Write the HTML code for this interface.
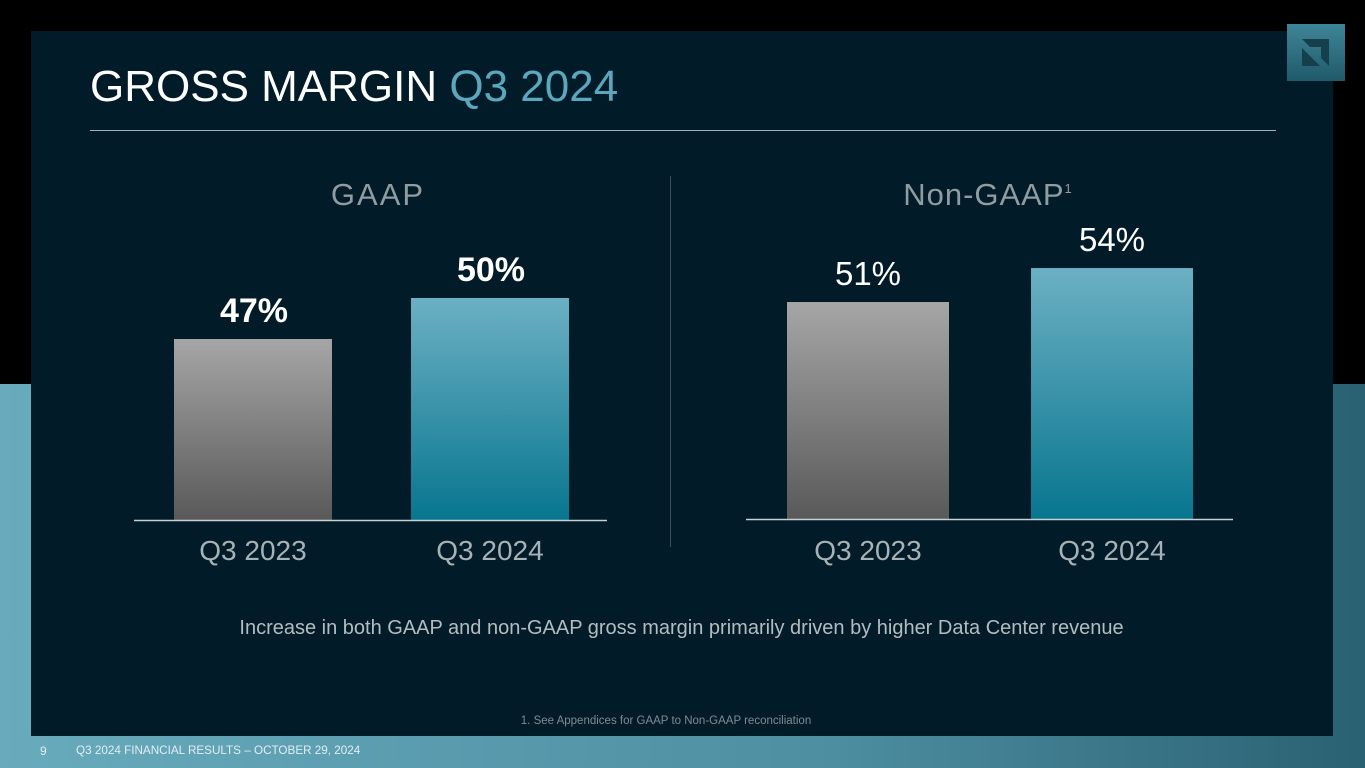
<!DOCTYPE html>
<html><head><meta charset="utf-8"><style>
body{margin:0;width:1365px;height:768px;overflow:hidden;font-family:"Liberation Sans",sans-serif;position:relative;background:#000}
.bg{position:absolute;left:0;top:384px;width:1365px;height:384px;background:linear-gradient(90deg,#68abbd,#4e8fa2 60%,#2a6172)}
.panel{position:absolute;left:31px;top:31px;width:1302px;height:705px;background:#011c28}
.abs{position:absolute}
</style></head><body>
<div class="bg"></div>
<div class="panel"></div>
<div class="abs" style="left:1287px;top:24px;width:58px;height:57px;background:linear-gradient(180deg,#3f8597,#1f5a6a)">
<svg width="58" height="57"><polygon points="15,15 42,15 42,42 34,34 34,23 23,23" fill="#163f4c"/><polygon points="15,24 24,33 33,42 15,42" fill="#163f4c"/></svg></div>
<div class="abs" style="left:90px;top:62px;font-size:44px;color:#fff">GROSS MARGIN <span style="color:#5ba7bd">Q3 2024</span></div>
<div class="abs" style="left:90px;top:130px;width:1186px;height:1px;background:#9fb3ba"></div>
<div class="abs" style="left:670px;top:176px;width:1px;height:371px;background:#3a4f58"></div>
<svg class="abs" style="left:0;top:0" width="1365" height="768" id="chart">
<defs>
<linearGradient id="g" x1="0" y1="0" x2="0" y2="1"><stop offset="0" stop-color="#a6a6a6"/><stop offset="1" stop-color="#595959"/></linearGradient>
<linearGradient id="b" x1="0" y1="0" x2="0" y2="1"><stop offset="0" stop-color="#6cb0c3"/><stop offset="1" stop-color="#07768f"/></linearGradient>
</defs>
</svg>
<div class="abs" style="left:0;width:1365px;text-align:center;top:617px;font-size:20px;color:#b5bcc0;text-indent:-2px">Increase in both GAAP and non-GAAP gross margin primarily driven by higher Data Center revenue</div>
<div class="abs" style="left:0;width:1332px;text-align:center;top:715px;font-size:11.5px;color:#7d8b92">1. See Appendices for GAAP to Non-GAAP reconciliation</div>
<div class="abs" style="left:40px;top:744px;font-size:12px;color:#e0eef2">9</div>
<div class="abs" style="left:76px;top:744px;font-size:11.7px;color:#e0eef2">Q3 2024 FINANCIAL RESULTS – OCTOBER 29, 2024</div>
<script>
const categories=["Q3 2023","Q3 2024"];
const gaapValues=[47,50];
const nonGaapValues=[51,54];
const gaapLabels=["47%","50%"];
const nonGaapLabels=["51%","54%"];
const svg=document.getElementById('chart');
const NS='http://www.w3.org/2000/svg';
function mk(t,a){const e=document.createElementNS(NS,t);for(const k in a)e.setAttribute(k,a[k]);svg.appendChild(e);return e;}
function panel(cfg,vals,labels,name){
  const y=v=>cfg.base-(v-cfg.v0)*cfg.k;
  const title=mk('text',{x:cfg.tx,y:205,'font-size':31,fill:'#8f9ca2','text-anchor':'middle','letter-spacing':cfg.ls});
  title.textContent=cfg.title;
  
  
  if(cfg.sup){const s=document.createElementNS(NS,'tspan');s.setAttribute('font-size','13');s.setAttribute('dy','-12');s.textContent='1';title.appendChild(s);}
  vals.forEach((v,i)=>{
    const x=cfg.xs[i];
    const r=mk('rect',{x:x,y:y(v),width:cfg.w,height:cfg.base-y(v),fill:i?'url(#b)':'url(#g)'});
    
    
    const t=mk('text',{x:x+cfg.w/2+(cfg.bold?1:0),y:y(v)-17,'font-size':cfg.bold?34:33,'font-weight':cfg.bold?'bold':'normal',fill:'#fff','text-anchor':'middle'});
    t.textContent=labels[i];
    
    
    const c=mk('text',{x:x+cfg.w/2,y:560,'font-size':28,fill:'#a7b2b7','text-anchor':'middle'});
    c.textContent=categories[i];
    
    
  });
  const l=mk('line',{x1:cfg.l0,x2:cfg.l1,y1:cfg.base+0.5,y2:cfg.base+0.5,stroke:'#c8d0d3','stroke-width':1.5});
  
  
}
panel({base:520,v0:33.76,k:13.67,xs:[174,411],w:158,l0:134,l1:607,tx:378,title:'GAAP',bold:true,ls:2},gaapValues,gaapLabels,'gaap');
panel({base:519,v0:31.85,k:11.33,xs:[787,1031],w:162,l0:746,l1:1233,tx:988,title:'Non-GAAP',sup:true,ls:1},nonGaapValues,nonGaapLabels,'non-gaap');
</script>
</body></html>
